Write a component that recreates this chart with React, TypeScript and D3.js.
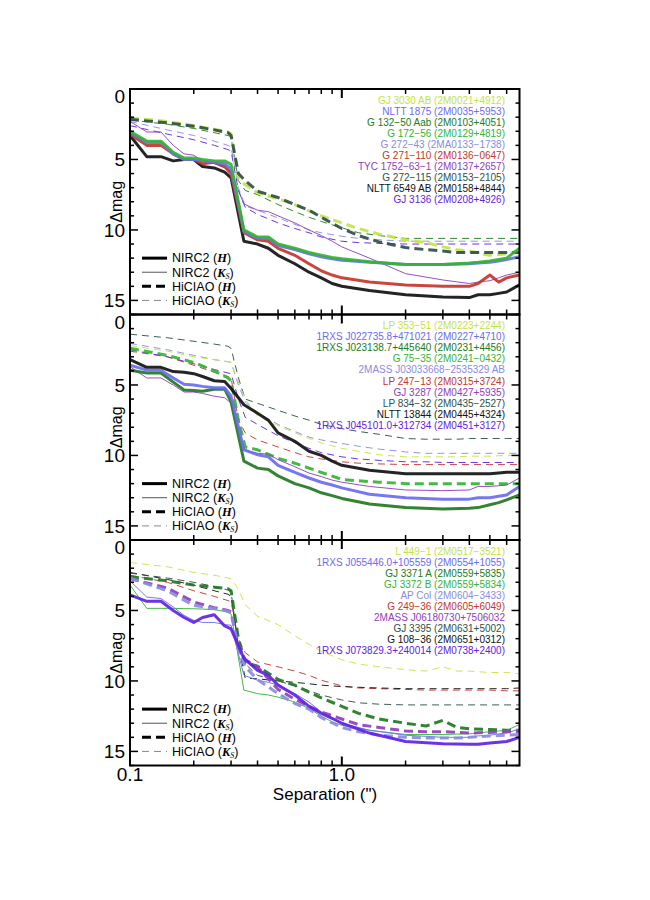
import React from "react";
import * as d3 from "d3";

// contrast curves: separation (arcsec) vs delta-mag
const nirc2Sep = [0.1, 0.12, 0.14, 0.16, 0.18, 0.2, 0.22, 0.25, 0.28, 0.3, 0.345, 0.4, 0.45, 0.5, 0.6, 0.7, 0.8, 0.9, 1.0, 1.35, 2.0, 3.0, 4.0, 4.4, 5.0, 5.5, 6.0, 6.9];
const hiciaoSep = [0.1, 0.15, 0.2, 0.25, 0.29, 0.3, 0.325, 0.35, 0.4, 0.5, 0.6, 0.7, 0.8, 1.0, 1.2, 1.5, 2.0, 2.5, 3.0, 3.5, 4.0, 5.0, 6.0, 6.9];

const colors = ["#c3e445", "#6b6cf0", "#217a21", "#34b434", "#8a8ce0", "#c4362c", "#9040b8", "#2f4f4a", "#111111", "#6222e0"];

const targets1 = ["GJ 3030 AB (2M0021+4912)", "NLTT 1875 (2M0035+5953)", "G 132\u221250 Aab (2M0103+4051)", "G 172\u221256 (2M0129+4819)", "G 272\u221243 (2MA0133\u22121738)", "G 271\u2212110 (2M0136\u22120647)", "TYC 1752\u221263\u22121 (2M0137+2657)", "G 272\u2212115 (2M0153\u22122105)", "NLTT 6549 AB (2M0158+4844)", "GJ 3136 (2M0208+4926)"];
const targets2 = ["LP 353\u221251 (2M0223+2244)", "1RXS J022735.8+471021 (2M0227+4710)", "1RXS J023138.7+445640 (2M0231+4456)", "G 75\u221235 (2M0241\u22120432)", "2MASS J03033668\u22122535329 AB", "LP 247\u221213 (2M0315+3724)", "GJ 3287 (2M0427+5935)", "LP 834\u221232 (2M0435\u22122527)", "NLTT 13844 (2M0445+4324)", "1RXS J045101.0+312734 (2M0451+3127)"];
const targets3 = ["L 449\u22121 (2M0517\u22123521)", "1RXS J055446.0+105559 (2M0554+1055)", "GJ 3371 A (2M0559+5835)", "GJ 3372 B (2M0559+5834)", "AP Col (2M0604\u22123433)", "G 249\u221236 (2M0605+6049)", "2MASS J06180730+7506032", "GJ 3395 (2M0631+5002)", "G 108\u221236 (2M0651+0312)", "1RXS J073829.3+240014 (2M0738+2400)"];

// panel 1
const p1NlttH = [3.3, 4.8, 4.8, 5.1, 5.0, 5.0, 5.5, 5.6, 5.9, 6.3, 10.8, 11.0, 11.3, 11.8, 12.4, 13.0, 13.4, 13.8, 14.0, 14.3, 14.6, 14.75, 14.8, 14.6, 14.6, 14.5, 14.4, 13.9];
const p1G271H = [3.2, 4.0, 4.0, 4.6, 5.0, 5.0, 5.3, 5.2, 5.5, 6.0, 10.2, 10.7, 10.8, 11.3, 11.8, 12.4, 12.9, 13.2, 13.4, 13.7, 13.9, 14.0, 14.0, 13.8, 13.2, 13.7, 13.4, 13.2];
const p1G172H = [3.0, 3.7, 3.7, 4.5, 4.9, 4.9, 5.0, 5.1, 5.1, 5.35, 10.0, 10.5, 10.5, 11.0, 11.3, 11.6, 11.8, 11.95, 12.05, 12.25, 12.45, 12.45, 12.35, 12.3, 12.2, 12.1, 12.0, 11.3];
const p1Nltt1875H = [3.1, 3.8, 3.8, 4.6, 5.0, 5.0, 5.1, 5.2, 5.3, 5.7, 10.1, 10.6, 10.6, 11.1, 11.4, 11.7, 11.9, 12.05, 12.15, 12.3, 12.45, 12.45, 12.4, 12.35, 12.3, 12.2, 12.1, 11.9];
const p1TycKs = [2.3, 3.05, 3.05, 4.0, 4.6, 4.7, 5.1, 5.3, 5.6, 5.95, 8.15, 8.6, 8.7, 9.0, 9.5, 10.0, 10.4, 10.8, 11.2, 12.0, 13.1, 13.55, 13.8, 13.7, 13.6, 13.4, 13.2, 13.0];
const p1Gj3030H = [2.05, 2.3, 2.6, 2.85, 3.05, 3.2, 6.3, 6.8, 7.35, 7.8, 8.2, 8.65, 9.0, 9.5, 9.9, 10.3, 10.7, 10.9, 11.2, 11.4, 11.5, 11.8, 11.7, 11.5];
const p1G272115H = [2.15, 2.4, 2.65, 2.9, 3.1, 3.3, 6.0, 6.5, 7.25, 7.7, 8.2, 8.6, 9.1, 9.9, 10.4, 10.85, 11.25, 11.4, 11.5, 11.6, 11.6, 11.6, 11.6, 11.6];
const p1G132Ks = [2.2, 2.5, 2.8, 3.1, 3.3, 3.4, 6.5, 7.2, 7.5, 8.2, 8.7, 9.1, 9.4, 9.85, 10.2, 10.4, 10.6, 10.6, 10.6, 10.6, 10.6, 10.6, 10.6, 10.6];
const p1G27243Ks = [2.3, 2.9, 3.3, 3.7, 4.0, 4.1, 7.0, 8.3, 8.6, 9.15, 9.6, 10.0, 10.2, 10.45, 10.6, 10.7, 10.8, 10.8, 10.8, 10.8, 10.8, 10.8, 10.8, 10.8];
const p1Gj3136Ks = [2.6, 3.2, 3.6, 4.0, 4.3, 4.4, 7.2, 8.4, 8.9, 9.5, 9.9, 10.2, 10.5, 10.8, 10.9, 10.95, 11.0, 11.0, 11.0, 11.0, 11.0, 11.0, 11.0, 11.0];

// panel 2
const p2Nltt13844H = [3.2, 3.75, 3.75, 4.05, 4.1, 4.2, 4.4, 4.7, 4.75, 5.25, 6.4, 7.0, 7.5, 8.4, 9.0, 9.7, 10.0, 10.4, 10.7, 11.05, 11.3, 11.3, 11.3, 11.3, 11.3, 11.25, 11.2, 11.2];
const p2Rxs0227H = [3.6, 3.95, 3.95, 4.5, 4.95, 5.0, 5.1, 5.2, 5.2, 5.8, 9.6, 9.95, 10.1, 10.7, 11.2, 11.6, 11.9, 12.1, 12.3, 12.75, 13.0, 13.1, 13.1, 13.0, 13.0, 12.9, 12.8, 12.2];
const p2Rxs0231H = [3.95, 4.15, 4.15, 4.8, 5.35, 5.4, 5.45, 5.3, 5.3, 6.2, 10.4, 10.9, 11.0, 11.45, 12.0, 12.3, 12.65, 12.85, 13.05, 13.45, 13.7, 13.8, 13.75, 13.7, 13.5, 13.35, 13.15, 12.8];
const p2Gj3287Ks = [3.7, 4.5, 4.5, 5.0, 5.5, 5.5, 5.6, 5.8, 5.9, 6.3, 9.6, 9.85, 9.9, 10.3, 10.8, 11.25, 11.5, 11.75, 11.9, 12.2, 12.45, 12.5, 12.45, 12.2, 12.2, 12.15, 12.1, 11.6];
const p2G7535H = [2.4, 2.9, 3.4, 4.0, 4.5, 4.7, 7.5, 9.4, 9.6, 10.2, 10.55, 10.9, 11.2, 11.7, 11.8, 11.9, 12.0, 12.0, 12.0, 12.0, 12.0, 12.0, 12.0, 12.0];
const p2Lp834Ks = [1.4, 1.65, 1.9, 2.1, 2.25, 2.4, 4.5, 6.0, 6.3, 6.8, 7.2, 7.5, 7.8, 8.1, 8.3, 8.5, 8.8, 8.85, 8.85, 8.85, 8.8, 8.8, 8.8, 8.8];
const p2J0303Ks = [2.05, 2.5, 2.9, 3.2, 3.35, 3.4, 5.0, 6.2, 7.0, 7.8, 8.3, 8.7, 8.9, 9.15, 9.35, 9.55, 9.75, 9.85, 9.85, 9.85, 9.85, 9.85, 9.85, 9.85];
const p2Lp353Ks = [2.2, 2.6, 3.0, 3.2, 3.35, 3.4, 4.8, 6.0, 7.2, 7.9, 8.4, 8.8, 9.1, 9.5, 9.7, 9.95, 10.1, 10.1, 10.1, 10.1, 10.05, 10.05, 10.0, 10.0];
const p2Lp247Ks = [2.6, 3.0, 3.6, 4.1, 4.4, 4.5, 7.5, 8.4, 8.9, 9.4, 9.8, 10.1, 10.25, 10.45, 10.55, 10.6, 10.65, 10.65, 10.65, 10.65, 10.65, 10.65, 10.65, 10.65];
const p2Rxs0451Ks = [2.5, 3.0, 3.5, 3.9, 4.15, 4.2, 6.0, 7.3, 7.8, 8.6, 9.1, 9.5, 9.8, 10.1, 10.25, 10.35, 10.45, 10.45, 10.5, 10.5, 10.5, 10.5, 10.5, 10.5];

// panel 3
const p3Gj3372Ks = [3.2, 4.85, 4.85, 4.85, 4.87, 4.88, 4.9, 4.95, 5.05, 5.25, 10.65, 10.9, 11.0, 11.15, 11.5, 11.95, 12.5, 12.9, 13.15, 13.5, 13.8, 13.8, 13.75, 13.7, 13.6, 13.55, 13.5, 13.1];
const p3Rxs0554Ks = [2.9, 4.05, 4.15, 4.75, 5.35, 5.7, 5.85, 5.85, 6.0, 6.05, 9.6, 9.95, 10.1, 10.3, 10.9, 11.5, 12.2, 12.7, 13.0, 13.5, 13.85, 14.0, 14.0, 13.9, 13.85, 13.75, 13.7, 13.4];
const p3Rxs0738H = [3.9, 4.35, 4.35, 5.0, 5.5, 5.85, 5.5, 5.3, 6.1, 6.3, 8.4, 9.25, 9.6, 10.3, 11.0, 11.8, 12.3, 12.65, 13.0, 13.7, 14.3, 14.45, 14.5, 14.5, 14.4, 14.35, 14.3, 14.0];
const p3L449Ks = [1.6, 1.9, 2.3, 2.5, 2.7, 2.75, 3.5, 4.6, 5.4, 6.0, 6.8, 7.4, 7.9, 8.5, 8.8, 9.0, 9.2, 9.3, 9.0, 9.3, 9.3, 9.4, 9.4, 9.5];
const p3Gj3371H = [2.6, 2.9, 3.2, 3.35, 3.45, 3.6, 7.0, 8.7, 8.95, 9.9, 10.3, 10.8, 11.2, 11.8, 12.3, 12.7, 13.0, 13.2, 12.8, 13.3, 13.4, 13.45, 13.5, 13.5];
const p3J0618H = [2.75, 3.4, 4.4, 4.8, 5.0, 5.1, 7.5, 8.5, 9.0, 10.6, 11.3, 11.8, 12.2, 12.7, 13.1, 13.3, 13.55, 13.6, 13.6, 13.65, 13.7, 13.65, 13.6, 13.6];
const p3ApColH = [2.7, 3.6, 4.65, 4.85, 5.05, 5.15, 7.8, 9.0, 9.9, 10.9, 11.6, 12.0, 12.6, 13.3, 13.6, 13.85, 14.0, 14.05, 14.05, 14.05, 14.0, 13.9, 13.85, 13.8];
const p3G249Ks = [2.5, 3.0, 3.6, 4.0, 4.3, 4.4, 7.0, 8.0, 8.65, 9.0, 9.3, 9.6, 9.95, 10.35, 10.5, 10.55, 10.6, 10.65, 10.65, 10.65, 10.65, 10.65, 10.7, 10.7];
const p3G108Ks = [2.3, 2.8, 3.2, 3.6, 3.85, 4.0, 7.5, 9.8, 9.85, 10.0, 10.1, 10.2, 10.3, 10.4, 10.45, 10.5, 10.55, 10.55, 10.55, 10.55, 10.55, 10.55, 10.55, 10.5];
const p3Gj3395Ks = [2.35, 2.7, 3.0, 3.3, 3.55, 3.7, 7.5, 8.8, 9.6, 10.0, 10.35, 10.7, 11.0, 11.35, 11.55, 11.65, 11.7, 11.7, 11.7, 11.7, 11.7, 11.7, 11.7, 11.7];

type Curve = { c: number; inst: "NIRC2" | "HiCIAO"; band: "H" | "Ks"; mag: number[] };

const panels: { names: string[]; curves: Curve[] }[] = [
  {
    names: targets1,
    curves: [
      { c: 2, inst: "HiCIAO", band: "Ks", mag: p1G132Ks },
      { c: 4, inst: "HiCIAO", band: "Ks", mag: p1G27243Ks },
      { c: 9, inst: "HiCIAO", band: "Ks", mag: p1Gj3136Ks },
      { c: 0, inst: "HiCIAO", band: "H", mag: p1Gj3030H },
      { c: 7, inst: "HiCIAO", band: "H", mag: p1G272115H },
      { c: 6, inst: "NIRC2", band: "Ks", mag: p1TycKs },
      { c: 8, inst: "NIRC2", band: "H", mag: p1NlttH },
      { c: 5, inst: "NIRC2", band: "H", mag: p1G271H },
      { c: 1, inst: "NIRC2", band: "H", mag: p1Nltt1875H },
      { c: 3, inst: "NIRC2", band: "H", mag: p1G172H },
    ],
  },
  {
    names: targets2,
    curves: [
      { c: 7, inst: "HiCIAO", band: "Ks", mag: p2Lp834Ks },
      { c: 4, inst: "HiCIAO", band: "Ks", mag: p2J0303Ks },
      { c: 0, inst: "HiCIAO", band: "Ks", mag: p2Lp353Ks },
      { c: 5, inst: "HiCIAO", band: "Ks", mag: p2Lp247Ks },
      { c: 9, inst: "HiCIAO", band: "Ks", mag: p2Rxs0451Ks },
      { c: 3, inst: "HiCIAO", band: "H", mag: p2G7535H },
      { c: 6, inst: "NIRC2", band: "Ks", mag: p2Gj3287Ks },
      { c: 2, inst: "NIRC2", band: "H", mag: p2Rxs0231H },
      { c: 1, inst: "NIRC2", band: "H", mag: p2Rxs0227H },
      { c: 8, inst: "NIRC2", band: "H", mag: p2Nltt13844H },
    ],
  },
  {
    names: targets3,
    curves: [
      { c: 0, inst: "HiCIAO", band: "Ks", mag: p3L449Ks },
      { c: 5, inst: "HiCIAO", band: "Ks", mag: p3G249Ks },
      { c: 8, inst: "HiCIAO", band: "Ks", mag: p3G108Ks },
      { c: 7, inst: "HiCIAO", band: "Ks", mag: p3Gj3395Ks },
      { c: 2, inst: "HiCIAO", band: "H", mag: p3Gj3371H },
      { c: 3, inst: "NIRC2", band: "Ks", mag: p3Gj3372Ks },
      { c: 1, inst: "NIRC2", band: "Ks", mag: p3Rxs0554Ks },
      { c: 6, inst: "HiCIAO", band: "H", mag: p3J0618H },
      { c: 4, inst: "HiCIAO", band: "H", mag: p3ApColH },
      { c: 9, inst: "NIRC2", band: "H", mag: p3Rxs0738H },
    ],
  },
];

const yMajor = [0, 5, 10, 15];
const yMinor = d3.range(0, 17);
const xMinor = [0.2, 0.3, 0.4, 0.5, 0.6, 0.7, 0.8, 0.9, 2, 3, 4, 5, 6];

const left = 130, right = 519.5, top0 = 89, panelH = 225.5;
const sans = "'Liberation Sans', Arial, Helvetica, sans-serif";
const serif = "'Liberation Serif', 'Times New Roman', serif";

const x = d3.scaleLog().domain([0.1, 6.9]).range([left, right]);

function strokeFor(cv: Curve) {
  const thick = cv.band === "H";
  return {
    strokeWidth: thick ? 3 : 1,
    strokeDasharray: cv.inst === "HiCIAO" ? (thick ? "9,5" : "7,5") : undefined,
  };
}

const legendRows = [
  { inst: "NIRC2", band: "H", w: 3, dash: undefined, col: "#000" },
  { inst: "NIRC2", band: "Ks", w: 1, dash: undefined, col: "#555" },
  { inst: "HiCIAO", band: "H", w: 3, dash: "9,5", col: "#000" },
  { inst: "HiCIAO", band: "Ks", w: 1, dash: "7,5", col: "#888" },
];

function Panel({ idx }: { idx: number }) {
  const p = panels[idx];
  const top = top0 + idx * panelH;
  const bottom = top + panelH;
  const y = d3.scaleLinear().domain([0, 16]).range([top, bottom]);
  const line = (seps: number[]) =>
    d3.line<number>().x((_, i) => x(seps[i])).y((d) => y(d));
  const last = idx === panels.length - 1;

  return (
    <g>
      <defs>
        <clipPath id={"clip" + idx}>
          <rect x={left} y={top} width={right - left} height={panelH} />
        </clipPath>
      </defs>
      <g clipPath={`url(#clip${idx})`}>
        {p.curves.map((cv, i) => {
          const seps = cv.inst === "NIRC2" ? nirc2Sep : hiciaoSep;
          const s = strokeFor(cv);
          return (
            <path key={i} d={line(seps)(cv.mag) || ""} fill="none" stroke={colors[cv.c]}
              strokeWidth={s.strokeWidth} strokeDasharray={s.strokeDasharray} strokeLinejoin="round" opacity={0.92} />
          );
        })}
      </g>

      {/* target names */}
      {p.names.map((n, i) => (
        <text key={i} x={505} y={top + 14.5 + i * 11.1} textAnchor="end" fontFamily={sans} fontSize={10} fill={colors[i]}>
          {n}
        </text>
      ))}

      {/* legend */}
      {legendRows.map((r, i) => {
        const ly = y(12 + i);
        return (
          <g key={i}>
            <line x1={142} x2={167} y1={ly} y2={ly} stroke={r.col} strokeWidth={r.w} strokeDasharray={r.dash} />
            <text x={172} y={ly + 4.3} fontFamily={sans} fontSize={12.5} fill="#000">
              {r.inst + " ("}
              <tspan fontFamily={serif} fontStyle="italic" fontWeight="bold">{r.band === "H" ? "H" : "K"}</tspan>
              {r.band === "Ks" && (
                <tspan fontFamily={serif} fontStyle="italic" fontSize={8} dy={2}>S</tspan>
              )}
              <tspan dy={r.band === "Ks" ? -2 : 0}>)</tspan>
            </text>
          </g>
        );
      })}

      {/* ticks */}
      {yMinor.map((v) => {
        const len = yMajor.includes(v) ? 8 : 4;
        return (
          <g key={"y" + v} stroke="#000" strokeWidth={1.5}>
            <line x1={left} x2={left + len} y1={y(v)} y2={y(v)} />
            <line x1={right} x2={right - len} y1={y(v)} y2={y(v)} />
          </g>
        );
      })}
      {xMinor.map((v) => (
        <g key={"x" + v} stroke="#000" strokeWidth={1.5}>
          <line x1={x(v)} x2={x(v)} y1={top} y2={top + 5} />
          <line x1={x(v)} x2={x(v)} y1={bottom} y2={bottom - 5} />
        </g>
      ))}
      <g stroke="#000" strokeWidth={2}>
        <line x1={x(1)} x2={x(1)} y1={top} y2={top + 9} />
        <line x1={x(1)} x2={x(1)} y1={bottom} y2={bottom - 9} />
      </g>
      <rect x={left} y={top} width={right - left} height={panelH} fill="none" stroke="#000" strokeWidth={2} />

      {yMajor.map((v) => (
        <text key={"l" + v} x={125} y={v === 0 ? y(v) + 14 : y(v) + 7} textAnchor="end" fontFamily={sans} fontSize={19}>
          {v}
        </text>
      ))}
      <text transform={`translate(122,${(top + bottom) / 2}) rotate(-90)`} textAnchor="middle" fontFamily={sans} fontSize={16}>
        {"\u0394mag"}
      </text>

      {last && (
        <g fontFamily={sans} textAnchor="middle">
          <text x={x(0.1)} y={bottom + 15} fontSize={19}>0.1</text>
          <text x={x(1)} y={bottom + 15} fontSize={19}>1.0</text>
          <text x={325} y={bottom + 34} fontSize={17}>Separation (")</text>
        </g>
      )}
    </g>
  );
}

export default function App() {
  return (
    <div style={{ position: "absolute", left: 0, top: 0 }}>
      <svg width={650} height={900} style={{ display: "block", background: "#fff" }}>
        {panels.map((_, i) => (
          <Panel key={i} idx={i} />
        ))}
      </svg>
    </div>
  );
}
